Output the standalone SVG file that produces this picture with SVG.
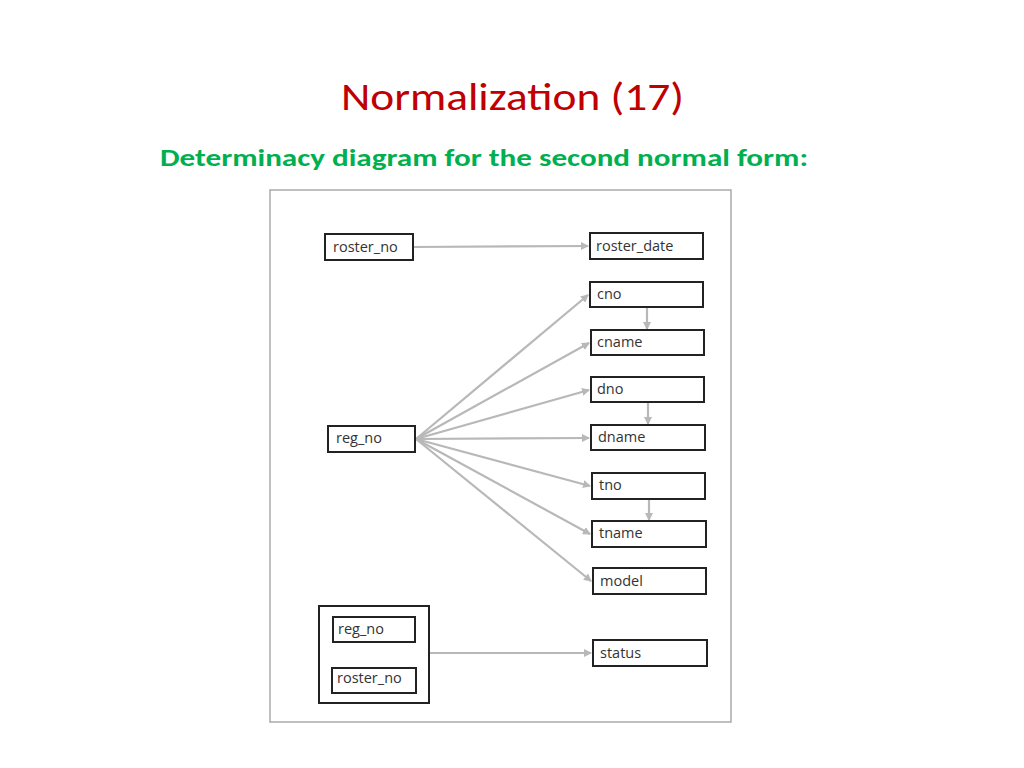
<svg xmlns="http://www.w3.org/2000/svg" width="1024" height="768" viewBox="0 0 1024 768">
<style>
.n rect{fill:#fff;stroke:#222;stroke-width:2}
.n text{font-family:"Open Sans","DejaVu Sans",sans-serif;font-size:14.5px;fill:#333}
.c line{stroke:#b8b8b8;stroke-width:2.2;marker-end:url(#a)}
</style>
<defs><marker id="a" markerWidth="8" markerHeight="8" refX="7" refY="4" orient="auto" markerUnits="userSpaceOnUse"><path d="M0,0 L8,4 L0,8 z" fill="#b8b8b8"/></marker></defs>
<rect width="1024" height="768" fill="#fff"/>
<text x="341" y="110" textLength="343" lengthAdjust="spacingAndGlyphs" font-family="Calibri,'Liberation Sans',sans-serif" font-size="38" fill="#c00000">Normalization (17)</text>
<text x="160" y="166" textLength="648" lengthAdjust="spacingAndGlyphs" font-family="Calibri,'Liberation Sans',sans-serif" font-size="24" font-weight="bold" fill="#00b050">Determinacy diagram for the second normal form:</text>
<rect x="270" y="190" width="461" height="532" fill="#fff" stroke="#aaa" stroke-width="1.5"/>
<g class="c">
<line x1="414" y1="247" x2="588" y2="246"/>
<line x1="416" y1="439" x2="588" y2="295"/>
<line x1="416" y1="439" x2="589" y2="343"/>
<line x1="416" y1="439" x2="589" y2="390"/>
<line x1="416" y1="439" x2="589" y2="438"/>
<line x1="416" y1="439" x2="590" y2="486"/>
<line x1="416" y1="439" x2="590" y2="534"/>
<line x1="416" y1="439" x2="591" y2="581"/>
<line x1="430" y1="653" x2="591" y2="653"/>
<line x1="647" y1="308" x2="647" y2="329"/>
<line x1="648" y1="403" x2="648" y2="424"/>
<line x1="649" y1="500" x2="649" y2="520"/>
</g>
<g id="roster_no" class="n"><rect x="325" y="234" width="88" height="26"/><text x="333" y="252">roster_no</text></g>
<g id="roster_date" class="n"><rect x="590" y="233" width="113" height="26"/><text x="596" y="251">roster_date</text></g>
<g id="cno" class="n"><rect x="590" y="282" width="113" height="25"/><text x="597" y="299">cno</text></g>
<g id="cname" class="n"><rect x="591" y="330" width="113" height="25"/><text x="597" y="347">cname</text></g>
<g id="dno" class="n"><rect x="591" y="377" width="113" height="25"/><text x="597" y="394">dno</text></g>
<g id="dname" class="n"><rect x="591" y="425" width="114" height="25"/><text x="598" y="442">dname</text></g>
<g id="tno" class="n"><rect x="592" y="473" width="113" height="26"/><text x="599" y="490">tno</text></g>
<g id="tname" class="n"><rect x="592" y="521" width="114" height="26"/><text x="599" y="538">tname</text></g>
<g id="model" class="n"><rect x="593" y="568" width="113" height="26"/><text x="600" y="586">model</text></g>
<g id="status" class="n"><rect x="593" y="640" width="114" height="26"/><text x="600" y="658">status</text></g>
<g id="reg_no" class="n"><rect x="328" y="426" width="87" height="26"/><text x="336" y="443">reg_no</text></g>
<g id="composite" class="n"><rect x="319" y="606" width="110" height="97"/>
<rect x="333" y="617" width="82" height="25"/><text x="338" y="634">reg_no</text>
<rect x="332" y="668" width="84" height="25"/><text x="337" y="683">roster_no</text></g>
</svg>
